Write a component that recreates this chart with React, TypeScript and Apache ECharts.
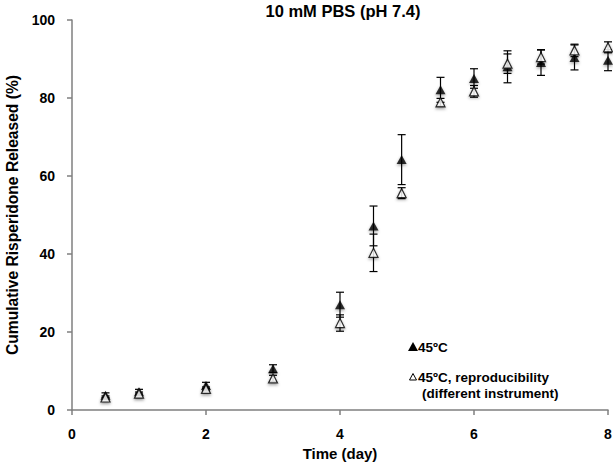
import React, { useEffect, useRef } from "react";
import * as echarts from "echarts";

const times = [0.5, 1, 2, 3, 4, 4.5, 4.92, 5.5, 6, 6.5, 7, 7.5, 8];
const filledVals = [3.8, 4.7, 6.3, 10.6, 27.0, 47.2, 64.2, 82.1, 85.0, 88.0, 89.1, 90.4, 89.7];
const filledErr = [0.6, 0.6, 0.8, 1.0, 3.2, 5.1, 6.4, 3.2, 2.5, 4.1, 3.3, 3.2, 2.7];
const openVals = [3.2, 4.2, 5.4, 8.1, 22.3, 40.3, 55.6, 78.9, 81.7, 88.8, 90.5, 92.2, 93.0];
const openErr = [0.4, 0.4, 0.5, 0.8, 2.1, 4.8, 1.4, 1.0, 1.5, 2.5, 1.8, 1.6, 1.4];
const xTicks = { min: 0, max: 8, interval: 2 };
const yTicks = { min: 0, max: 100, interval: 20 };
const titleText = "10 mM PBS (pH 7.4)";
const xName = "Time (day)";
const yName = "Cumulative Risperidone Released (%)";
const legendNames = ["45ºC", "45ºC, reproducibility", "(different instrument)"];

const FONT = "'Liberation Sans', Arial, Helvetica, sans-serif";

function errData(vals: number[], errs: number[]) {
  return times.map((t, i) => [t, vals[i] - errs[i], vals[i] + errs[i]]);
}

function errRender(params: any, api: any) {
  const x = api.value(0);
  const lo = api.coord([x, api.value(1)]);
  const hi = api.coord([x, api.value(2)]);
  const hw = 4;
  const style = { stroke: "#000", lineWidth: 1.2, fill: "none" };
  return {
    type: "group",
    children: [
      { type: "line", shape: { x1: lo[0], y1: lo[1], x2: hi[0], y2: hi[1] }, style },
      { type: "line", shape: { x1: lo[0] - hw, y1: lo[1], x2: lo[0] + hw, y2: lo[1] }, style },
      { type: "line", shape: { x1: hi[0] - hw, y1: hi[1], x2: hi[0] + hw, y2: hi[1] }, style },
    ],
  };
}

export default function App() {
  const ref = useRef<HTMLDivElement>(null);
  useEffect(() => {
    if (!ref.current) return;
    const chart = echarts.init(ref.current, undefined, { renderer: "svg" });
    const axisLine = { lineStyle: { color: "#7f7f7f", width: 1.5 } };
    const labelStyle = { color: "#000", fontWeight: "bold" as const, fontSize: 14, fontFamily: FONT };
    chart.setOption({
      animation: false,
      backgroundColor: "#fff",
      title: {
        text: titleText,
        left: 343,
        top: 2,
        padding: 0,
        textAlign: "center",
        textStyle: { fontSize: 16.5, fontWeight: "bold", fontFamily: FONT, color: "#000" },
      },
      grid: { left: 72, right: 5, top: 20, bottom: 54, outerBoundsMode: "none" },
      xAxis: {
        type: "value",
        ...xTicks,
        name: xName,
        nameLocation: "middle",
        nameGap: 34,
        nameTextStyle: { ...labelStyle, fontSize: 15 },
        axisLine,
        axisTick: { show: true, length: 5, lineStyle: { color: "#7f7f7f", width: 1.5 } },
        axisLabel: { ...labelStyle, margin: 17 },
        splitLine: { show: false },
      },
      yAxis: {
        type: "value",
        ...yTicks,
        name: yName,
        nameLocation: "middle",
        nameGap: 47,
        nameTextStyle: { ...labelStyle, fontSize: 15.6 },
        axisLine: { show: true, ...axisLine },
        axisTick: { show: true, length: 5, lineStyle: { color: "#7f7f7f", width: 1.5 } },
        axisLabel: { ...labelStyle, margin: 17 },
        splitLine: { show: false },
      },
      graphic: [
        {
          type: "polygon",
          shape: { points: [[408, 351], [418, 351], [413, 342]] },
          style: { fill: "#000" },
        },
        {
          type: "text",
          x: 418,
          y: 347,
          style: { text: legendNames[0], fill: "#000", font: `bold 13.5px ${FONT}`, verticalAlign: "middle" },
        },
        {
          type: "polygon",
          shape: { points: [[409.5, 380], [416.5, 380], [413, 373.5]] },
          style: { fill: "#fff", stroke: "#000", lineWidth: 1 },
        },
        {
          type: "text",
          x: 418,
          y: 377,
          style: { text: legendNames[1], fill: "#000", font: `bold 13.5px ${FONT}`, verticalAlign: "middle" },
        },
        {
          type: "text",
          x: 422,
          y: 393,
          style: { text: legendNames[2], fill: "#000", font: `bold 13.5px ${FONT}`, verticalAlign: "middle" },
        },
      ],
      series: [
        {
          type: "custom",
          name: "err1",
          renderItem: errRender,
          data: errData(filledVals, filledErr),
          z: 2,
        },
        {
          type: "custom",
          name: "err2",
          renderItem: errRender,
          data: errData(openVals, openErr),
          z: 2,
        },
        {
          type: "scatter",
          name: legendNames[0],
          symbol: "triangle",
          symbolSize: [10, 9],
          itemStyle: {
            color: "#000",
            shadowBlur: 3,
            shadowColor: "rgba(0,0,0,0.45)",
            shadowOffsetY: 1.5,
          },
          data: times.map((t, i) => [t, filledVals[i]]),
          z: 3,
        },
        {
          type: "scatter",
          name: legendNames[1],
          symbol: "triangle",
          symbolSize: [9, 9],
          itemStyle: {
            color: "#fff",
            borderColor: "#000",
            borderWidth: 1.2,
            shadowBlur: 3,
            shadowColor: "rgba(0,0,0,0.45)",
            shadowOffsetY: 1.5,
          },
          data: times.map((t, i) => [t, openVals[i]]),
          z: 4,
        },
      ],
    });
    return () => chart.dispose();
  }, []);
  return (
    <div
      ref={ref}
      style={{ position: "fixed", left: 0, top: 0, width: 613, height: 464, background: "#fff" }}
    />
  );
}
